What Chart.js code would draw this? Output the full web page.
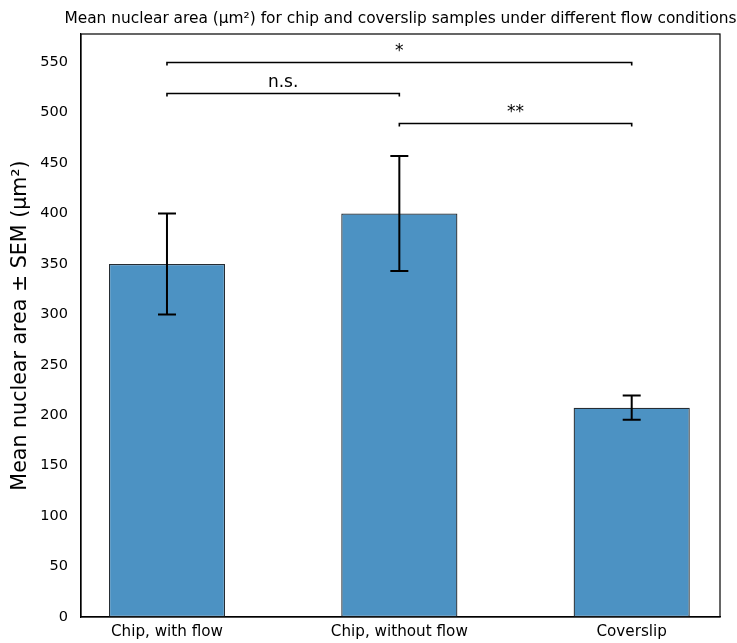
<!DOCTYPE html>
<html>
<head>
<meta charset="utf-8">
<script src="https://cdn.jsdelivr.net/npm/chart.js@4/dist/chart.umd.min.js"></script>
<style>
  html, body { margin: 0; padding: 0; background: #ffffff; }
  #wrap { width: 737px; height: 643px; }
</style>
</head>
<body>
<div id="wrap"><canvas id="c" width="737" height="643"></canvas></div>
<script>
// Sample groups and their mean nuclear area with standard error
const categories = ['Chip, with flow', 'Chip, without flow', 'Coverslip'];
const meanArea = [350, 400, 207.5];
const semArea = [50, 57, 12];

// Pairwise significance annotations: group indices, bracket height, label
const bracketFrom = [0, 0, 1];
const bracketTo = [2, 1, 2];
const bracketLevel = [550, 520, 490];
const bracketLabel = ['*', 'n.s.', '**'];

const TITLE = 'Mean nuclear area (µm²) for chip and coverslip samples under different flow conditions';
const FONT = "'DejaVu Sans', 'Liberation Sans', sans-serif";

const annotations = {
  id: 'annotations',
  afterDatasetsDraw(chart) {
    const ctx = chart.ctx;
    const x = chart.scales.x, y = chart.scales.y;
    const area = chart.chartArea;
    ctx.save();

    // error bars with caps
    ctx.strokeStyle = '#000000';
    ctx.lineWidth = 2;
    meanArea.forEach((m, i) => {
      const px = x.getPixelForValue(i);
      const top = y.getPixelForValue(m + semArea[i]);
      const bot = y.getPixelForValue(m - semArea[i]);
      ctx.beginPath();
      ctx.moveTo(px, top); ctx.lineTo(px, bot);
      ctx.moveTo(px - 9, top); ctx.lineTo(px + 9, top);
      ctx.moveTo(px - 9, bot); ctx.lineTo(px + 9, bot);
      ctx.stroke();
    });

    // significance brackets
    ctx.lineWidth = 1.6;
    ctx.fillStyle = '#000000';
    ctx.font = '17px ' + FONT;
    ctx.textAlign = 'center';
    ctx.textBaseline = 'bottom';
    bracketLabel.forEach((lab, k) => {
      const x1 = x.getPixelForValue(bracketFrom[k]);
      const x2 = x.getPixelForValue(bracketTo[k]);
      const py = Math.round(y.getPixelForValue(bracketLevel[k])) + 0.5;
      ctx.beginPath();
      ctx.moveTo(x1, py + 3); ctx.lineTo(x1, py); ctx.lineTo(x2, py); ctx.lineTo(x2, py + 3);
      ctx.stroke();
      ctx.fillText(lab, (x1 + x2) / 2, py - 2);
    });

    // axes frame
    ctx.lineWidth = 1.2;
    ctx.strokeStyle = '#000000';
    ctx.strokeRect(area.left, area.top, area.right - area.left, area.bottom - area.top);

    // title, centred over the plotting area
    ctx.font = '15.4px ' + FONT;
    ctx.textBaseline = 'middle';
    ctx.textAlign = 'center';
    ctx.fillText(TITLE, (area.left + area.right) / 2, 19);
    ctx.restore();
  }
};

new Chart(document.getElementById('c'), {
  type: 'bar',
  data: {
    datasets: [{
      data: meanArea.map((v, i) => ({ x: i, y: v })),
      backgroundColor: '#4c92c3',
      borderColor: '#262d33',
      borderWidth: 1.3,
      borderSkipped: false,
      categoryPercentage: 0.5,
      barPercentage: 1.0
    }]
  },
  options: {
    responsive: false,
    animation: false,
    devicePixelRatio: 1,
    layout: { padding: { left: 0, right: 17, top: 34, bottom: 0 } },
    plugins: {
      legend: { display: false },
      tooltip: { enabled: false },
      title: { display: false }
    },
    scales: {
      x: {
        type: 'linear',
        min: -0.37,
        max: 2.38,
        offset: false,
        grid: { display: false, drawTicks: true, tickLength: 5, tickColor: '#000000' },
        border: { display: true, color: '#000000', width: 1.2 },
        afterBuildTicks(scale) { scale.ticks = categories.map((_, i) => ({ value: i })); },
        afterFit(scale) { scale.height = 26; },
        ticks: {
          color: '#000000',
          font: { family: FONT, size: 15.2 },
          padding: 1,
          autoSkip: false,
          maxRotation: 0,
          callback: (v) => categories[v]
        }
      },
      y: {
        min: 0,
        max: 578,
        grid: { display: false, drawTicks: true, tickLength: 5, tickColor: '#000000' },
        border: { display: true, color: '#000000', width: 1.2 },
        afterFit(scale) { scale.width = 81; },
        title: {
          display: true,
          text: 'Mean nuclear area ± SEM (µm²)',
          color: '#000000',
          font: { family: FONT, size: 20.6 },
          padding: { top: 8, bottom: 0 }
        },
        ticks: {
          stepSize: 50,
          includeBounds: false,
          color: '#000000',
          font: { family: FONT, size: 14.5 },
          padding: 8
        }
      }
    }
  },
  plugins: [annotations]
});
</script>
</body>
</html>
